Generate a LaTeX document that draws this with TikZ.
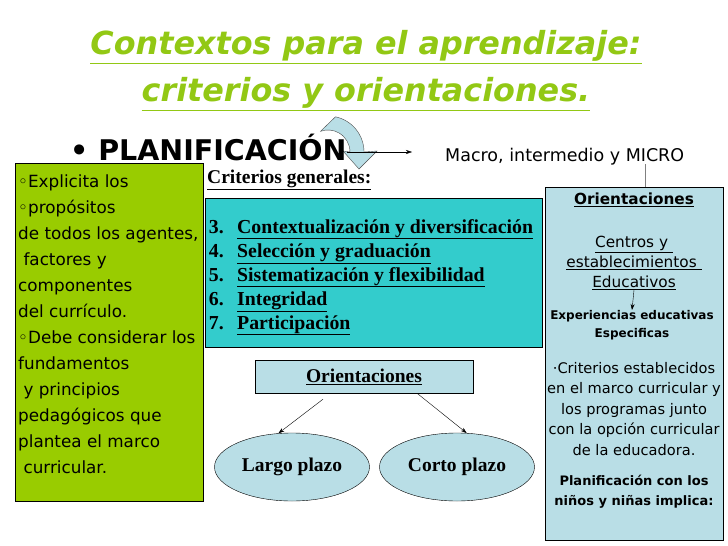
\documentclass[tikz,border=0pt]{standalone}
\usepackage{fontspec}
\setmainfont{DejaVu Sans}
\newfontfamily\garamond{Liberation Serif}
\usetikzlibrary{
  positioning,
  arrows.meta,
  shapes.geometric
}
\definecolor{titlegreen}{RGB}{146,200,20}
\definecolor{boxgreen}{RGB}{153,204,0}
\definecolor{boxteal}{RGB}{51,204,204}
\definecolor{boxblue}{RGB}{185,222,230}
\tikzstyle{panel}=[draw=black, thin, anchor=north west, inner sep=0pt]
\tikzstyle{title}=[titlegreen, font=\bfseries\itshape\fontsize{31.8}{38}\selectfont, inner sep=0pt]
\tikzstyle{comic}=[font=\fontsize{16.8}{26}\selectfont, align=left, anchor=north west, inner sep=0pt]
\tikzstyle{item}=[font=\garamond\bfseries\fontsize{19.8}{22}\selectfont, anchor=base west, inner sep=0pt]
\tikzstyle{oval}=[ellipse, draw=black, thin, fill=boxblue, minimum width=155pt, minimum height=68pt,
  inner sep=0pt, font=\garamond\bfseries\fontsize{19.5}{22}\selectfont]
\tikzstyle{link}=[-{Stealth[length=6pt,width=4pt]}, thin]
\tikzstyle{rtext}=[align=center, inner sep=0pt]

\begin{document}
\begin{tikzpicture}[x=1pt,y=1pt]
    \useasboundingbox[fill=white] (0,0) rectangle (728,-546);

    % TITULO
    \node[title] (title1) at (366,-47) {\underline{Contextos para el aprendizaje:}};
    \node[title] (title2) at (366,-94) {\underline{criterios y orientaciones.}};

    % flecha curva detras de la N
    \draw[fill=boxblue, draw=black!70, thin]
      (335.5,-116.8) arc[start angle=78, end angle=0, radius=36]
      -- (377,-151) -- (359,-169) -- (343,-151) -- (350,-152)
      arc[start angle=0, end angle=110, radius=22] -- cycle;

    % CAJAS
    \node[panel, fill=boxgreen, minimum width=188pt, minimum height=338pt] (aims) at (15,-163) {};
    \node[panel, fill=boxteal, minimum width=337pt, minimum height=149pt] (general) at (205,-198) {};
    \node[panel, fill=boxblue, minimum width=178pt, minimum height=353pt] (rbox) at (545,-187) {};

    % PLANIFICACION
    \node[anchor=base west, inner sep=0pt, font=\bfseries\fontsize{28.5}{32}\selectfont] (planif) at (70,-160) {• PLANIFICACIÓN};
    \node[anchor=base west, inner sep=0pt, font=\fontsize{17.5}{20}\selectfont] (macro) at (445,-161) {Macro, intermedio y MICRO};
    \coordinate (arrowend) at (412,-152);
    \draw[link] (planif.east |- arrowend) -- (arrowend);

    % linea gris a MICRO
    \coordinate (micro) at (645,-164);
    \draw[gray, thick] (micro) -- (micro |- rbox.north);

    % texto caja verde
    \node[comic] (aimstext) at (18,-175) {%
      ◦Explicita los\\
      ◦propósitos\\
      de todos los agentes,\\
      \ factores y\\
      componentes\\
      del currículo.\\
      ◦Debe considerar los\\
      fundamentos\\
      \ y principios\\
      pedagógicos que\\
      plantea el marco\\
      \ curricular.};

    % criterios generales
    \node[anchor=west, inner sep=0pt, font=\garamond\bfseries\fontsize{19.5}{22}\selectfont] (critgen) at (207,-180) {\underline{Criterios generales:}};
    \foreach \n/\txt [count=\i] in {3/Contextualización y diversificación,
                                   4/Selección y graduación,
                                   5/Sistematización y flexibilidad,
                                   6/Integridad,
                                   7/Participación}{
        \node[item] (crit\n) at (237,{-233-24*(\i-1)}) {\underline{\txt}};
        \node[item, base left=13pt of crit\n] (num\n) {\n.};
      }

    % ORIENTACIONES centro
    \node[panel, fill=boxblue, minimum width=218pt, minimum height=33pt, anchor=center,
      font=\garamond\bfseries\fontsize{19.5}{22}\selectfont] (orient) at (364,-376.5) {\underline{Orientaciones}};
    \node[oval] (largo) at (292,-467) {Largo plazo};
    \node[oval] (corto) at (457,-467) {Corto plazo};
    \draw[link] ([xshift=-41pt,yshift=-6pt]orient.south) -- (largo.112);
    \draw[link] ([xshift=53pt]orient.south) -- (corto.74);

    % caja derecha
    \node[rtext, font=\bfseries\fontsize{15.3}{18}\selectfont] (rorient) at (634,-200) {\underline{Orientaciones}};
    \node[rtext, font=\fontsize{15.3}{20}\selectfont] (centros) at (634,-263)
      {\underline{Centros y\ }\\ \underline{establecimientos\ }\\ \underline{Educativos}};
    \node[rtext, font=\bfseries\fontsize{12}{18}\selectfont] (exper) at (632,-325)
      {Experiencias educativas\\ Especificas};
    \draw[link] (centros.south) -- (exper.north);
    \node[rtext, font=\fontsize{14.6}{20.5}\selectfont] (crit) at (634,-409)
      {·Criterios establecidos\\ en el marco curricular y\\ los programas junto\\ con la opción curricular\\ de la educadora.};
    \node[rtext, font=\bfseries\fontsize{13}{20}\selectfont] (plan) at (634,-492)
      {Planificación con los\\ niños y niñas implica:};
\end{tikzpicture}
\end{document}
